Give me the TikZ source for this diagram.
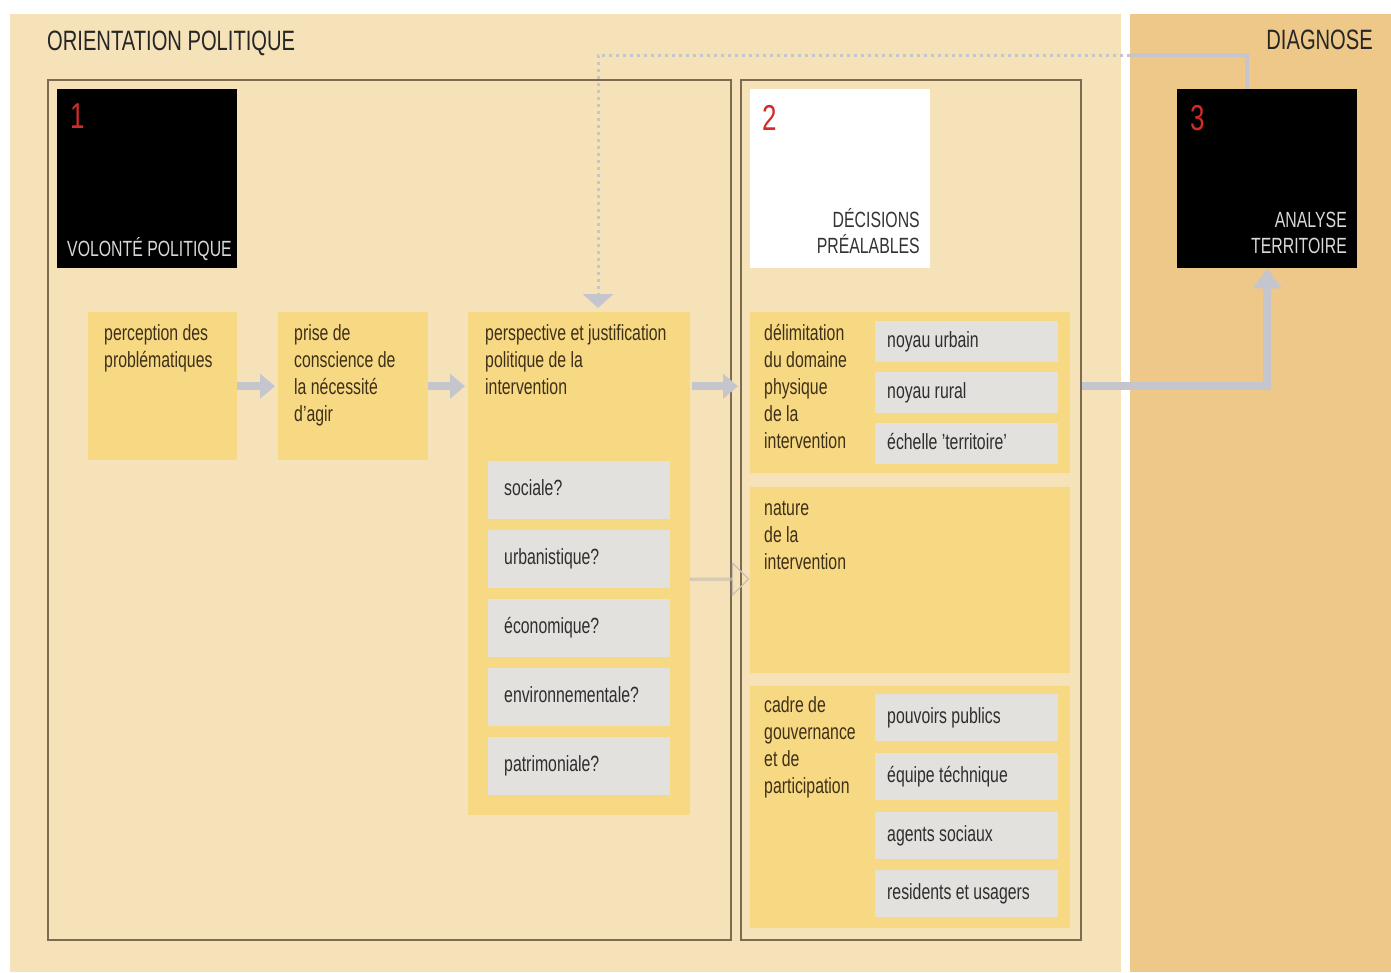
\documentclass[tikz,border=0pt]{standalone}
\usepackage{fontspec}
\setmainfont{Liberation Sans}[FakeStretch=0.72]
\usetikzlibrary{arrows.meta,positioning,shapes.arrows}

\definecolor{pgbeige}{HTML}{F6E2B9}
\definecolor{pgtan}{HTML}{EDC888}
\definecolor{pgyellow}{HTML}{F8D983}
\definecolor{pggray}{HTML}{E2E1DE}
\definecolor{pgarrow}{HTML}{C5C5CE}
\definecolor{pgoutline}{HTML}{C9C0B2}
\definecolor{pgframe}{HTML}{7D6B4F}
\definecolor{pgred}{HTML}{D42A2A}
\definecolor{pgtext}{HTML}{3E3018}

\newcommand{\bodyfont}{\fontsize{22}{27}\selectfont}
\newcommand{\stagefont}{\fontsize{22}{26}\selectfont}
\newcommand{\titlefont}{\fontsize{28}{30}\selectfont}
\newcommand{\numfont}{\fontsize{36}{38}\selectfont}

\begin{document}
\begin{tikzpicture}[
  x=1pt, y=-1pt,
  panel/.style={fill=pgyellow, inner sep=0pt, anchor=north west},
  caption/.style={anchor=north west, align=left, inner sep=0pt,
    font=\bodyfont, text=pgtext, execute at begin node=\strut},
  question/.style={fill=pggray, anchor=north west, align=left, text width=150pt,
    inner xsep=16pt, inner ysep=0pt, minimum height=58pt,
    font=\bodyfont, text=black!82, execute at begin node={\spaceskip=0pt\relax\strut}},
  option/.style={fill=pggray, anchor=north west, align=left, text width=159pt,
    inner xsep=12pt, inner ysep=0pt, font=\bodyfont, text=black!82,
    execute at begin node={\spaceskip=0pt\relax\strut}},
  stage/.style={inner sep=0pt, anchor=north west, minimum width=180pt, minimum height=179pt},
  frame/.style={draw=pgframe, line width=2pt, inner sep=0pt, anchor=north west},
  number/.style={anchor=base west, inner sep=0pt, font=\numfont, text=pgred},
  flow/.style={pgarrow, line width=8pt, -{Triangle[length=15pt,width=24pt]}}
]
  % background
  \useasboundingbox (0,0) rectangle (1391,972);
  \fill[white] (0,0) rectangle (1391,972);
  \fill[pgbeige] (10,14) rectangle (1121,972);
  \fill[pgtan] (1130,14) rectangle (1391,972);

  % section titles
  \node[anchor=base west, inner sep=0pt, font=\titlefont, text=black!85] (orient) at (47,50) {ORIENTATION POLITIQUE};
  \node[anchor=base east, inner sep=0pt, font=\titlefont, text=black!85] (diag) at (1373,49) {DIAGNOSE};

  % frames
  \node[frame, minimum width=683pt, minimum height=860pt] (frameOne) at (47,79) {};
  \node[frame, minimum width=340pt, minimum height=860pt] (frameTwo) at (740,79) {};

  % stages
  \node[stage, fill=black] (stageOne) at (57,89) {};
  \node[number] (numOne) at (70,128) {1};
  \node[anchor=base west, inner sep=0pt, font=\bodyfont, text=black!15] (volonte) at (67,256) {VOLONTÉ POLITIQUE};

  \node[stage, fill=white] (stageTwo) at (750,89) {};
  \node[number] (numTwo) at (762,130) {2};
  \node[anchor=south east, align=right, inner sep=0pt, font=\stagefont, text=black!80] (decisions) at (920,254) {DÉCISIONS\\PRÉALABLES};

  \node[stage, fill=black] (stageThree) at (1177,89) {};
  \node[number] (numThree) at (1190,130) {3};
  \node[anchor=south east, align=right, inner sep=0pt, font=\stagefont, text=black!15] (analyse) at (1347,254) {ANALYSE\\TERRITOIRE};

  % political orientation panels
  \node[panel, minimum width=149pt, minimum height=148pt] (percep) at (88,312) {};
  \node[caption] (percepText) at (104,324) {perception des\\problématiques};
  \node[panel, minimum width=150pt, minimum height=148pt] (prise) at (278,312) {};
  \node[caption] (priseText) at (294,324) {prise de\\conscience de\\la nécessité\\d'agir};
  \node[panel, minimum width=222pt, minimum height=503pt] (persp) at (468,312) {};
  \node[caption] (perspText) at (485,324) {perspective et justification\\politique de la\\intervention};

  \node[question] (qSoc) at (488,461) {sociale?};
  \node[question] (qUrb) at (488,530) {urbanistique?};
  \node[question] (qEco) at (488,599) {économique?};
  \node[question] (qEnv) at (488,668) {environnementale?};
  \node[question] (qPat) at (488,737) {patrimoniale?};

  % prior decisions panels
  \node[panel, minimum width=320pt, minimum height=161pt] (delim) at (750,312) {};
  \node[caption] (delimText) at (764,324) {délimitation\\du domaine\\physique\\de la\\intervention};
  \node[option, minimum height=41pt] (oUrb) at (875,321) {noyau urbain};
  \node[option, minimum height=41pt] (oRur) at (875,372) {noyau rural};
  \node[option, minimum height=41pt] (oTer) at (875,423) {échelle 'territoire'};

  \node[panel, minimum width=320pt, minimum height=186pt] (nature) at (750,487) {};
  \node[caption] (natureText) at (764,501) {nature\\de la\\intervention};

  \node[panel, minimum width=320pt, minimum height=242pt] (cadre) at (750,686) {};
  \node[caption] (cadreText) at (764,696) {cadre de\\gouvernance\\et de\\participation};
  \node[option, minimum height=47pt] (oPou) at (875,694) {pouvoirs publics};
  \node[option, minimum height=47pt] (oEqu) at (875,753) {équipe téchnique};
  \node[option, minimum height=47pt] (oAge) at (875,812) {agents sociaux};
  \node[option, minimum height=47pt] (oRes) at (875,870) {residents et usagers};

  % flow arrows
  \draw[flow, shorten >=3pt] (percep.east) -- (prise.west);
  \draw[flow, shorten >=3pt] (prise.east) -- (prise.east -| persp.west);
  \draw[flow, shorten <=2pt, shorten >=2pt] (persp.east |- percep.east) -- (frameTwo.west |- percep.east);

  % hollow arrow towards nature
  \node[single arrow, draw=pgoutline, line width=1.2pt, inner sep=0pt,
    minimum height=58pt, minimum width=32pt, single arrow head extend=10pt] (hollow) at (719,579) {};

  % feedback loop from the analysis
  \coordinate (loopR) at (1247,55);
  \coordinate (loopMid) at (1130,55);
  \coordinate (loopL) at (598,55);
  \draw[pgarrow, line width=4pt] (stageThree.north -| loopR) -- (loopR) -- (loopMid);
  \draw[pgarrow, line width=3pt, dash pattern=on 3pt off 4pt, shorten >=4pt,
    -{Triangle[length=14pt,width=30pt]}] (loopMid) -- (loopL) -- (loopL |- persp.north);

  % towards the territorial analysis
  \draw[pgarrow, line width=8pt, -{Triangle[length=20pt,width=28pt]}]
    (frameTwo.east |- percep.east) -| (stageThree.south);
\end{tikzpicture}
\end{document}
